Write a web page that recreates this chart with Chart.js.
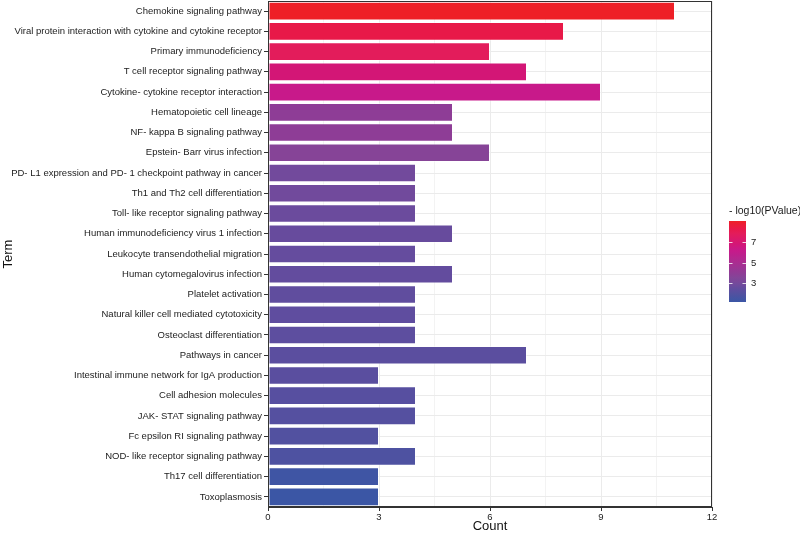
<!DOCTYPE html>
<html>
<head>
<meta charset="utf-8">
<script src="https://cdn.jsdelivr.net/npm/chart.js@4.4.1/dist/chart.umd.min.js"></script>
<style>
  html, body { margin: 0; padding: 0; background: #fff; }
  #wrap { width: 800px; height: 533px; position: relative; }
</style>
</head>
<body>
<div id="wrap"><canvas id="enrichCanvas" width="800" height="533"></canvas></div>
<script>
// KEGG enrichment - terms listed top to bottom
const terms = [
  'Chemokine signaling pathway',
  'Viral protein interaction with cytokine and cytokine receptor',
  'Primary immunodeficiency',
  'T cell receptor signaling pathway',
  'Cytokine- cytokine receptor interaction',
  'Hematopoietic cell lineage',
  'NF- kappa B signaling pathway',
  'Epstein- Barr virus infection',
  'PD- L1 expression and PD- 1 checkpoint pathway in cancer',
  'Th1 and Th2 cell differentiation',
  'Toll- like receptor signaling pathway',
  'Human immunodeficiency virus 1 infection',
  'Leukocyte transendothelial migration',
  'Human cytomegalovirus infection',
  'Platelet activation',
  'Natural killer cell mediated cytotoxicity',
  'Osteoclast differentiation',
  'Pathways in cancer',
  'Intestinal immune network for IgA production',
  'Cell adhesion molecules',
  'JAK- STAT signaling pathway',
  'Fc epsilon RI signaling pathway',
  'NOD- like receptor signaling pathway',
  'Th17 cell differentiation',
  'Toxoplasmosis'
];
const counts = [11, 8, 6, 7, 9, 5, 5, 6, 4, 4, 4, 5, 4, 5, 4, 4, 4, 7, 3, 4, 4, 3, 4, 3, 3];
const negLogP = [9.05, 8.3, 7.8, 6.8, 6.2, 3.9, 3.9, 3.6, 2.9, 2.85, 2.7, 2.6, 2.55, 2.5, 2.4,
                 2.35, 2.3, 2.25, 2.2, 2.1, 2.05, 1.95, 1.8, 1.3, 1.15];
const xTicks = [0, 3, 6, 9, 12];
const legendTicks = [3, 5, 7];

// colour ramp (fraction of the colour scale -> colour), blue -> magenta -> red
const rampStops = [
  [0.00, '#3b56a5'],
  [0.08, '#4d52a1'],
  [0.17, '#634c9e'],
  [0.22, '#724a9c'],
  [0.31, '#864497'],
  [0.35, '#8e3d96'],
  [0.50, '#ad2b90'],
  [0.64, '#c8198a'],
  [0.72, '#d41675'],
  [0.84, '#e31c5c'],
  [0.90, '#e8194a'],
  [1.00, '#ee2027']
];
const FONT = '"Liberation Sans", Arial, Helvetica, sans-serif';

function hexToRgb(h) {
  return [parseInt(h.slice(1, 3), 16), parseInt(h.slice(3, 5), 16), parseInt(h.slice(5, 7), 16)];
}
const vMin = Math.min(...negLogP);
const vMax = Math.max(...negLogP);
function colorFor(v) {
  const t = Math.max(0, Math.min(1, (v - vMin) / (vMax - vMin)));
  for (let i = 1; i < rampStops.length; i++) {
    const [t1, c1] = rampStops[i];
    if (t <= t1) {
      const [t0, c0] = rampStops[i - 1];
      const f = (t - t0) / (t1 - t0);
      const a = hexToRgb(c0), b = hexToRgb(c1);
      const rgb = a.map((x, k) => Math.round(x + (b[k] - x) * f));
      return `rgb(${rgb[0]}, ${rgb[1]}, ${rgb[2]})`;
    }
  }
  return rampStops[rampStops.length - 1][1];
}

// --- panel border + colourbar legend ---
const panelBorder = {
  id: 'panelBorder',
  afterDraw(chart) {
    const { ctx, chartArea: a } = chart;
    ctx.save();
    ctx.strokeStyle = '#333333';
    ctx.lineWidth = 1;
    ctx.strokeRect(a.left + 0.5, a.top + 0.5, a.right - a.left - 1, a.bottom - a.top - 1);
    ctx.restore();
  }
};

const colorBar = {
  id: 'colorBar',
  afterDraw(chart) {
    const ctx = chart.ctx;
    const x = 729, w = 17, top = 221, h = 81;
    ctx.save();
    ctx.fillStyle = '#1a1a1a';
    ctx.font = `10.5px ${FONT}`;
    ctx.textBaseline = 'middle';
    ctx.textAlign = 'left';
    ctx.fillText('- log10(PValue)', 729, 211);

    const grad = ctx.createLinearGradient(0, top + h, 0, top);
    for (let i = 0; i <= 40; i++) {
      grad.addColorStop(i / 40, colorFor(vMin + (vMax - vMin) * i / 40));
    }
    ctx.fillStyle = grad;
    ctx.fillRect(x, top, w, h);

    ctx.strokeStyle = 'rgba(255,255,255,0.8)';
    ctx.lineWidth = 1;
    ctx.fillStyle = '#222222';
    ctx.font = `9.5px ${FONT}`;
    legendTicks.forEach(v => {
      const y = Math.round(top + h - (v - vMin) / (vMax - vMin) * h) + 0.5;
      ctx.beginPath();
      ctx.moveTo(x, y); ctx.lineTo(x + 3.5, y);
      ctx.moveTo(x + w - 3.5, y); ctx.lineTo(x + w, y);
      ctx.stroke();
      ctx.fillText(String(v), x + w + 5, y);
    });
    ctx.restore();
  }
};

const ctx = document.getElementById('enrichCanvas').getContext('2d');
new Chart(ctx, {
  type: 'bar',
  data: {
    labels: terms,
    datasets: [{
      label: 'Count',
      data: counts,
      backgroundColor: negLogP.map(colorFor),
      borderColor: 'rgba(255,255,255,0.45)',
      borderWidth: 1,
      borderSkipped: false,
      barPercentage: 0.92,
      categoryPercentage: 1.0
    }]
  },
  options: {
    indexAxis: 'y',
    responsive: false,
    animation: false,
    devicePixelRatio: 1,
    layout: { padding: { top: 1, right: 88, left: 0, bottom: 0 } },
    plugins: {
      legend: { display: false },
      tooltip: { enabled: false }
    },
    scales: {
      x: {
        type: 'linear',
        min: 0,
        max: 12,
        ticks: {
          stepSize: 1.5,
          autoSkip: false,
          maxRotation: 0,
          padding: 1,
          color: '#222222',
          font: { family: FONT, size: 9.5 },
          callback: v => xTicks.includes(v) ? String(v) : ''
        },
        grid: {
          color: '#ebebeb',
          lineWidth: c => (c.tick && xTicks.includes(c.tick.value)) ? 1 : 0.6,
          tickColor: c => (c.tick && xTicks.includes(c.tick.value)) ? '#333333' : 'rgba(0,0,0,0)',
          tickLength: 4
        },
        border: { display: true, color: '#333333', width: 1 },
        title: {
          display: true,
          text: 'Count',
          color: '#111111',
          font: { family: FONT, size: 13, lineHeight: 1 },
          padding: { top: 0, bottom: 0 }
        },
        afterFit: s => { s.height = 26; s.paddingLeft = 0; s.paddingRight = 0; }
      },
      y: {
        ticks: {
          autoSkip: false,
          padding: 2,
          color: '#222222',
          font: { family: FONT, size: 9.5 }
        },
        grid: {
          offset: false,
          color: '#ebebeb',
          lineWidth: 1,
          tickColor: '#333333',
          tickLength: 4
        },
        border: { display: true, color: '#333333', width: 1 },
        title: {
          display: true,
          text: 'Term',
          color: '#111111',
          font: { family: FONT, size: 13, lineHeight: 1 },
          padding: { top: 1.5, bottom: 0 }
        },
        afterFit: s => { s.width = 268; s.paddingTop = 0; s.paddingBottom = 0; }
      }
    }
  },
  plugins: [panelBorder, colorBar]
});
</script>
</body>
</html>
